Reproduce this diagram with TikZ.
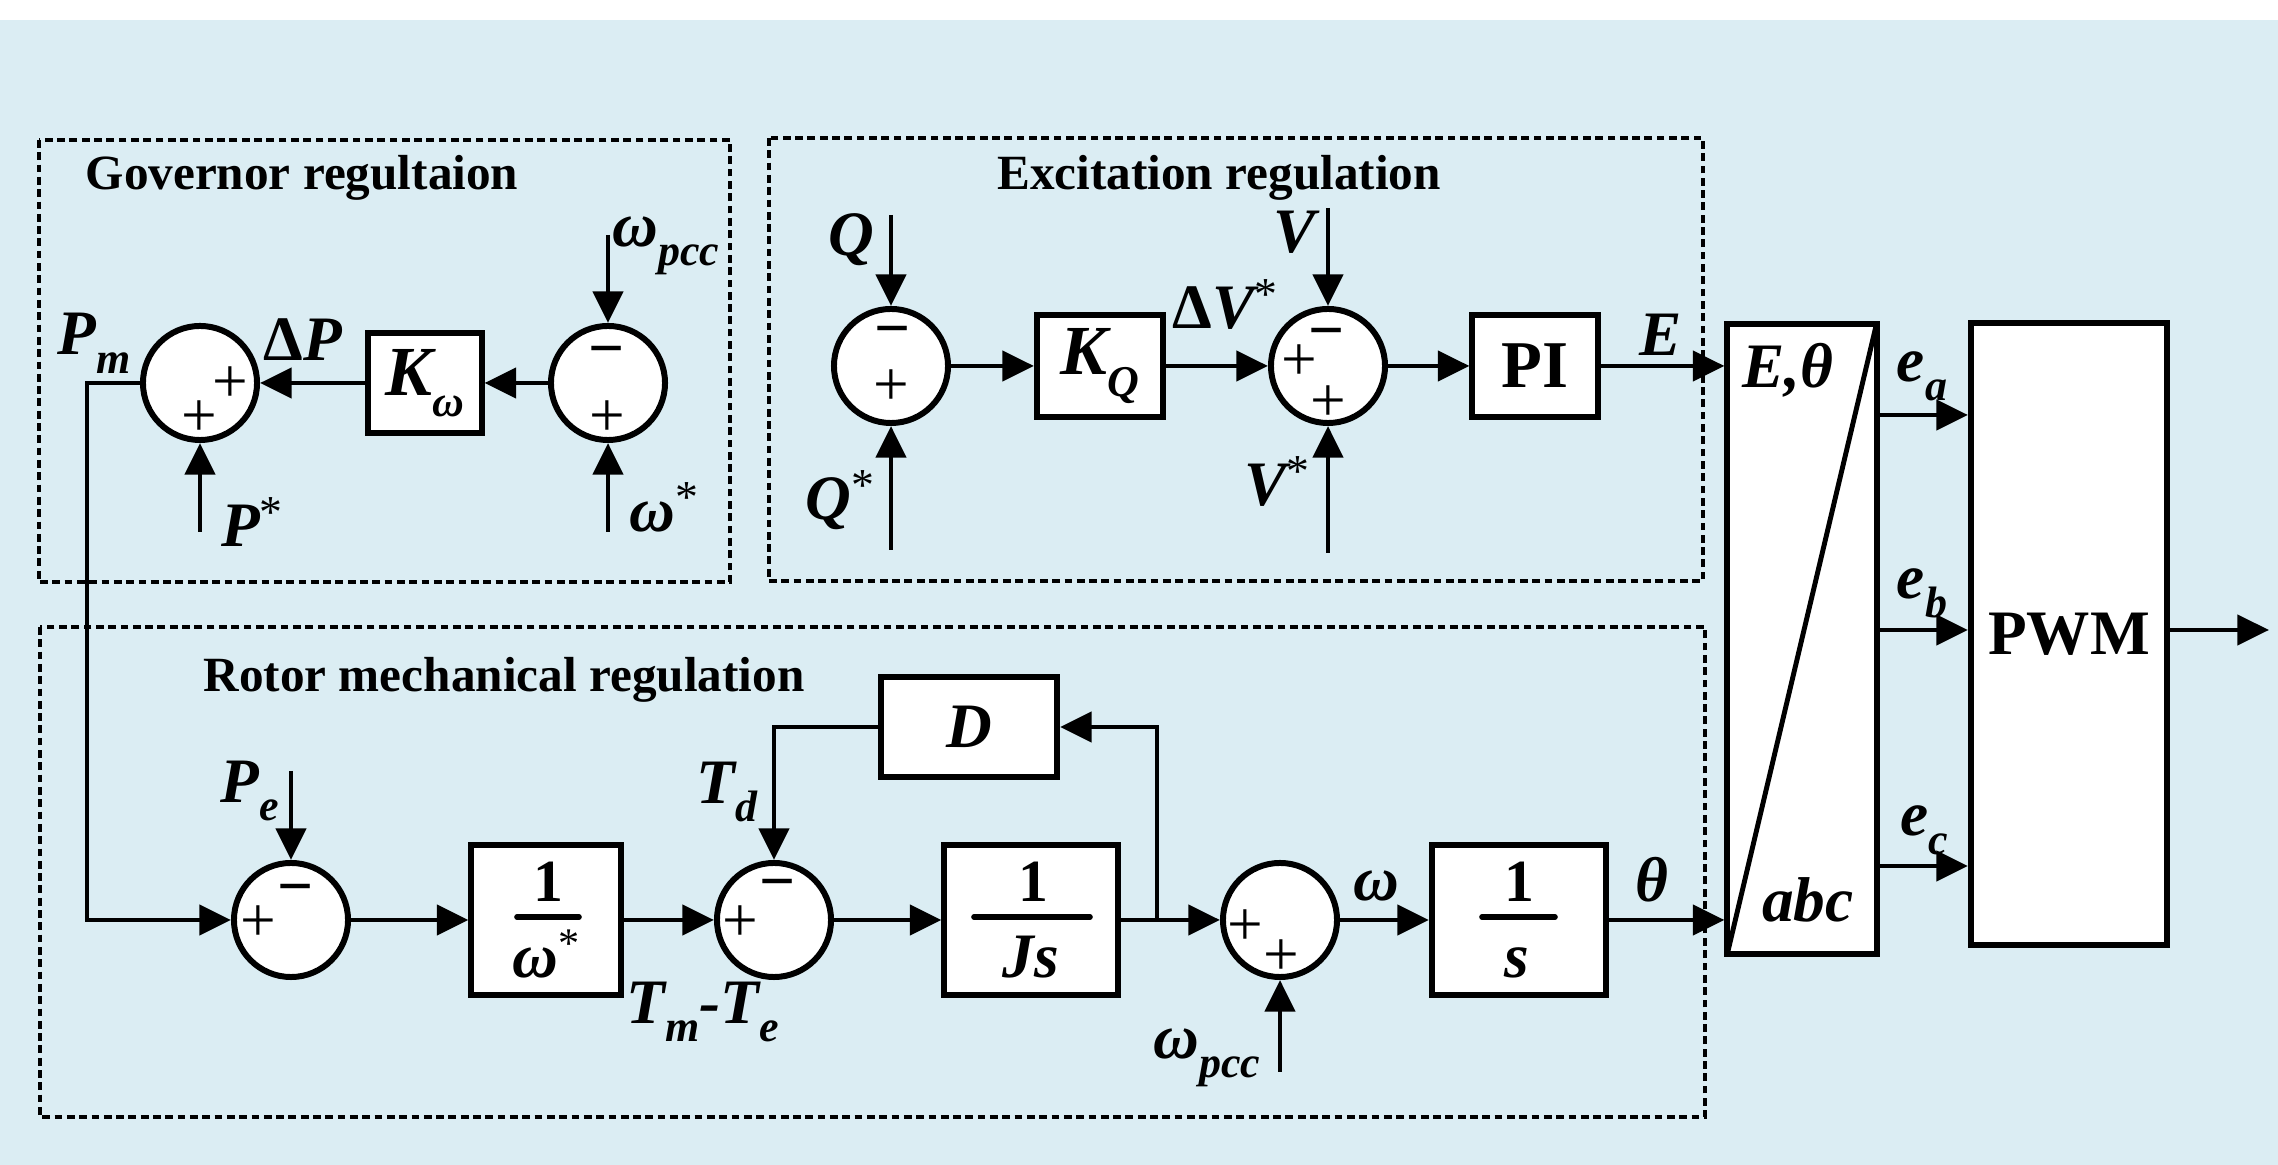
\documentclass[tikz,border=0pt]{standalone}
\usepackage{fontspec}
\setmainfont{Liberation Serif}
\usetikzlibrary{arrows.meta}
\definecolor{bgblue}{RGB}{219,237,243}
\newcommand\lbf{\fontsize{18}{18}\selectfont\bfseries\itshape}
\newcommand\sbsc[1]{\raisebox{-0.3em}{\fontsize{12.5}{12.5}\selectfont #1}}
\newcommand\spsc{\raisebox{0.3em}{\fontsize{13}{13}\selectfont\mdseries\upshape *}}
\begin{document}
\begin{tikzpicture}[x=0.01cm,y=-0.01cm,
 blk/.style={draw,line width=1.7pt,fill=white,inner sep=0pt},
 sumc/.style={draw,circle,line width=1.7pt,fill=white,minimum size=1.14cm,inner sep=0pt},
 arr/.style={line width=1.4pt,-{Triangle[length=9pt,width=8.5pt]}},
 bar/.style={line width=1.6pt,line cap=round},
 dbox/.style={line width=1.2pt,dash pattern=on 2.2pt off 1.3pt},
 ttl/.style={font=\fontsize{14}{14}\selectfont\bfseries,inner sep=0pt,anchor=base},
 lab/.style={font=\lbf,inner sep=0pt},
 sgn/.style={font=\fontsize{18}{18}\selectfont,inner sep=0pt,anchor=base},
 msg/.style={font=\fontsize{18}{18}\selectfont\bfseries,inner sep=0pt,anchor=base},
 frc/.style={font=\fontsize{17}{17}\selectfont\bfseries,inner sep=0pt,anchor=base},
 frd/.style={font=\fontsize{18}{18}\selectfont\bfseries\itshape,inner sep=0pt,anchor=base},
]
\useasboundingbox (0,0) rectangle (2278,1165);
\fill[white] (0,0) rectangle (2278,1165);
\fill[bgblue] (0,20) rectangle (2278,1165);

% dashed group frames
\draw[dbox] (39,140) rectangle (730,582);
\draw[dbox] (769,138) rectangle (1703,581);
\draw[dbox] (40,627) rectangle (1705,1117);

% titles
\node[ttl] (tgov) at (302,190) {Governor regultaion};
\node[ttl] (texc) at (1219,190) {Excitation regulation};
\node[ttl] (trot) at (504,692) {Rotor mechanical regulation};

% ---------- governor ----------
\node[sumc] (g1) at (200,383) {};
\node[blk,minimum width=1.13cm,minimum height=1.0cm] (kw) at (425,383) {\fontsize{20}{20}\selectfont\bfseries\itshape K\sbsc{ω}};
\node[sumc] (g2) at (608,383) {};
\node[sgn] (g1p1) at (230,403) {+};
\node[sgn] (g1p2) at (199,437) {+};
\node[msg] (g2m) at (607,370) {−};
\node[sgn] (g2p) at (607,437) {+};

\coordinate (wpa) at (608,235);
\coordinate (wst) at (608,532);
\coordinate (pst) at (200,532);
\coordinate (pmc) at (87,383);
\draw[arr] (wpa) -- (g2);
\draw[arr] (wst) -- (g2);
\draw[arr] (pst) -- (g1);
\draw[arr] (g2) -- (kw);
\draw[arr] (kw) -- (g1);

\node[lab] (lpm) at (94,343) {P\sbsc{m}};
\node[lab] (ldp) at (303,340) {{\upshape Δ}P};
\node[lab] (lps) at (252,522) {P\spsc};
\node[lab] (lwp1) at (666,246) {ω\sbsc{pcc}};
\node[lab] (lws) at (664,507) {ω\spsc};

% ---------- excitation ----------
\node[sumc] (q1) at (891,366) {};
\node[blk,minimum width=1.26cm,minimum height=1.02cm] (kq) at (1100,366) {\fontsize{20}{20}\selectfont\bfseries\itshape K\sbsc{Q}};
\node[sumc] (v1) at (1328,366) {};
\node[blk,minimum width=1.25cm,minimum height=1.02cm] (pi) at (1535,366) {\fontsize{19}{19}\selectfont\bfseries PI};
\node[msg] (q1m) at (893,350) {−};
\node[sgn] (q1p) at (891,406) {+};
\node[msg] (v1m) at (1327,352) {−};
\node[sgn] (v1p1) at (1299,381) {+};
\node[sgn] (v1p2) at (1328,422) {+};

\coordinate (qin) at (891,215);
\coordinate (qst) at (891,550);
\coordinate (vin) at (1328,208);
\coordinate (vst) at (1328,553);
\draw[arr] (qin) -- (q1);
\draw[arr] (qst) -- (q1);
\draw[arr] (vin) -- (v1);
\draw[arr] (vst) -- (v1);
\draw[arr] (q1) -- (kq);
\draw[arr] (kq) -- (v1);
\draw[arr] (v1) -- (pi);

\node[lab] (lq) at (851,240) {Q};
\node[lab] (lqs) at (840,500) {Q\spsc};
\node[lab] (ldv) at (1225,305) {{\upshape Δ}V\spsc};
\node[lab] (lv) at (1295,232) {V};
\node[lab] (lvs) at (1277,482) {V\spsc};
\node[lab] (le) at (1661,335) {E};

% ---------- rotor ----------
\node[sumc] (ra) at (291,920) {};
\node[blk,minimum width=1.49cm,minimum height=1.5cm] (wb) at (546,920) {};
\node[sumc] (rb) at (774,920) {};
\node[blk,minimum width=1.73cm,minimum height=1.5cm] (jb) at (1031,920) {};
\node[sumc] (rc) at (1280,920) {};
\node[blk,minimum width=1.74cm,minimum height=1.5cm] (sb) at (1519,920) {};
\node[blk,minimum width=1.76cm,minimum height=1.0cm] (db) at (969,727) {\lbf D};

\node[msg] (ram) at (296,908) {−};
\node[sgn] (rap) at (258,942) {+};
\node[msg] (rbm) at (778,903) {−};
\node[sgn] (rbp) at (740,942) {+};
\node[sgn] (rcp1) at (1245,946) {+};
\node[sgn] (rcp2) at (1281,976) {+};

% fractions
\node[frc] (wn) at (548,902) {1};
\draw[bar] (517,917) -- (579,917);
\node[frd] (wd) at (546,978) {ω\raisebox{0.33em}{\fontsize{12}{12}\selectfont\mdseries\upshape *}};
\node[frc] (jn1) at (1033,902) {1};
\draw[bar] (974,917) -- (1090,917);
\node[frd] (jd) at (1031,978) {Js};
\node[frc] (sn1) at (1519,902) {1};
\draw[bar] (1482,917) -- (1555,917);
\node[frd] (sd) at (1517,978) {s};

\coordinate (pe) at (291,771);
\coordinate (wpb) at (1280,1072);
\coordinate (jn) at (1157,920);
\draw[arr] (g1) -- (pmc) |- (ra);
\draw[arr] (pe) -- (ra);
\draw[arr] (ra) -- (wb);
\draw[arr] (wb) -- (rb);
\draw[arr] (rb) -- (jb);
\draw[arr] (jb) -- (rc);
\draw[arr] (jn) |- (db);
\draw[arr] (db) -| (rb);
\draw[arr] (wpb) -- (rc);
\draw[arr] (rc) -- (sb);

\node[lab] (lpe) at (250,791) {P\sbsc{e}};
\node[lab] (ltd) at (727,792) {T\sbsc{d}};
\node[lab] (ltm) at (703,1012) {T\sbsc{m}-T\sbsc{e}};
\node[lab] (lwp2) at (1207,1058) {ω\sbsc{pcc}};
\node[lab] (lw) at (1376,886) {ω};
\node[lab] (lth) at (1652,880) {θ};

% ---------- transform and PWM ----------
\node[blk,minimum width=1.49cm,minimum height=6.3cm] (tb) at (1802,639) {};
\draw[line width=1.4pt] (tb.south west) ++(3,-4) -- ([shift={(-3,3)}]tb.north east);
\node[blk,minimum width=1.96cm,minimum height=6.22cm] (pw) at (2069,634) {\fontsize{18}{18}\selectfont\bfseries PWM};
\node[lab] (let) at (1788,370) {E,θ};
\node[lab] (labc) at (1808,900) {abc};

\draw[arr] (pi) -- (pi -| tb.west);
\draw[arr] (sb) -- (sb -| tb.west);

\coordinate (ya) at (0,415);
\coordinate (yb) at (0,630);
\coordinate (yc) at (0,866);
\coordinate (out) at (2269,630);
\draw[arr] (tb.east |- ya) -- (pw.west |- ya);
\draw[arr] (tb.east |- yb) -- (pw.west |- yb);
\draw[arr] (tb.east |- yc) -- (pw.west |- yc);
\draw[arr] (pw.east |- out) -- (out);
\node[lab] (lea) at (1922,376) {e\sbsc{a}};
\node[lab] (leb) at (1922,593) {e\sbsc{b}};
\node[lab] (lec) at (1924,830) {e\sbsc{c}};
\end{tikzpicture}
\end{document}
